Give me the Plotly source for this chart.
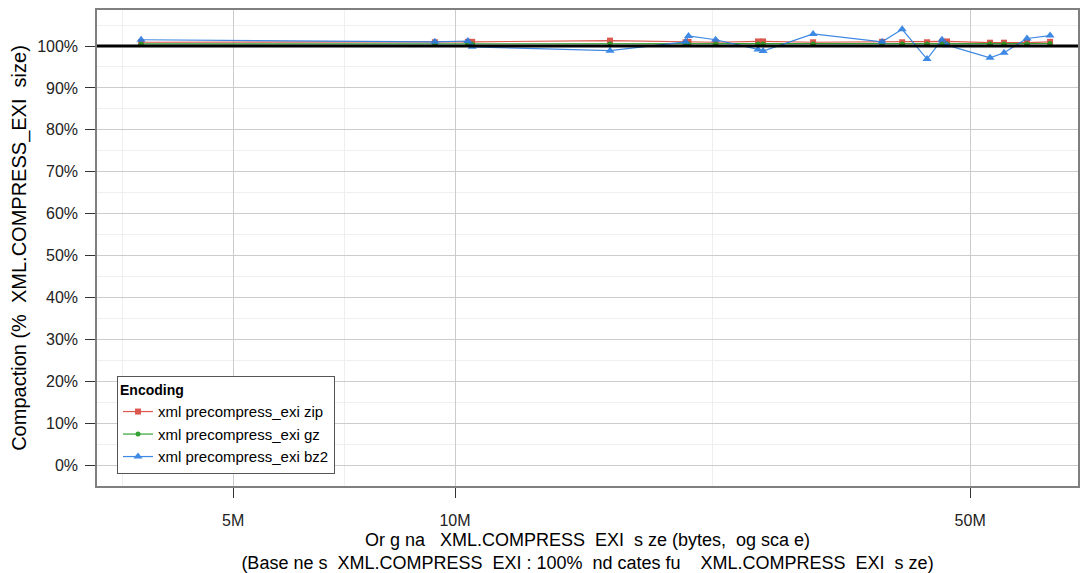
import plotly.graph_objects as go

# ---- data ----
sizes_bytes = [3.75e6, 9.39e6, 10.41e6, 10.55e6, 16.23e6, 20.55e6, 20.74e6, 22.57e6,
               25.77e6, 26.18e6, 30.61e6, 37.97e6, 40.43e6, 43.70e6, 45.79e6, 46.51e6,
               53.20e6, 55.58e6, 59.72e6, 64.18e6]
zip_pct = [100.9, 100.9, 101.0, 101.0, 101.3, 100.9, 101.0, 100.9,
           101.1, 101.1, 100.9, 101.0, 100.9, 100.9, 101.0, 101.1,
           100.8, 100.8, 100.8, 101.0]
gz_pct = [100.5, 100.5, 100.5, 100.5, 100.5, 100.5, 100.5, 100.5,
          100.5, 100.5, 100.5, 100.5, 100.5, 100.5, 100.5, 100.5,
          100.5, 100.5, 100.5, 100.6]
bz2_pct = [101.5, 101.0, 101.2, 99.8, 98.9, 101.0, 102.4, 101.5,
           99.2, 98.8, 102.9, 101.0, 104.0, 96.9, 101.5, 100.2,
           97.2, 98.4, 101.8, 102.5]
series_names = ["xml precompress_exi zip", "xml precompress_exi gz", "xml precompress_exi bz2"]
x_tick_vals = [5e6, 10e6, 50e6]
x_tick_text = ["5M", "10M", "50M"]
y_tick_vals = [0, 10, 20, 30, 40, 50, 60, 70, 80, 90, 100]
y_tick_text = ["0%", "10%", "20%", "30%", "40%", "50%", "60%", "70%", "80%", "90%", "100%"]
x_minor_vals = [3.536e6, 7.071e6, 22.36e6]
y_minor_vals = [5, 15, 25, 35, 45, 55, 65, 75, 85, 95, 105]

FONT = "Liberation Sans, Arial, Helvetica, sans-serif"
colors = ["#d9473c", "#1f9a1f", "#2a7de1"]
symbols = ["square", "circle", "triangle-up"]
msizes = [6, 5, 8]

fig = go.Figure()
for name, vals, c, s, ms in zip(series_names, [zip_pct, gz_pct, bz2_pct], colors, symbols, msizes):
    fig.add_trace(go.Scatter(
        x=sizes_bytes, y=vals, name=name, mode="lines+markers",
        line=dict(color=c, width=1.2),
        marker=dict(symbol=s, size=ms, color=c, line=dict(width=0)),
        opacity=0.9,
    ))

fig.add_hline(y=100, line=dict(color="black", width=3))

# page body has an 8px default margin, so the figure is offset by 8px
fig.update_layout(
    width=1081, height=565,
    margin=dict(l=89, r=11, t=2, b=87),
    paper_bgcolor="white", plot_bgcolor="white",
    font=dict(family=FONT, size=15, color="#222222"),
    showlegend=True,
    legend=dict(
        title=dict(text="<b>Encoding</b>", font=dict(size=14, color="black")),
        x=0.0204, y=0.025, xanchor="left", yanchor="bottom",
        bgcolor="white", bordercolor="#555555", borderwidth=1,
        font=dict(size=15, color="black"),
        tracegroupgap=0,
    ),
    xaxis=dict(
        type="log",
        range=[6.5142, 7.8453],
        automargin=False,
        tickvals=x_tick_vals, ticktext=x_tick_text,
        ticks="outside", ticklen=10, tickcolor="#333333",
        ticklabelstandoff=9,
        tickfont=dict(size=16, color="#222222"),
        showgrid=True, gridcolor="#cccccc", gridwidth=1,
        minor=dict(tickvals=x_minor_vals, showgrid=True, gridcolor="#efefef", ticklen=0),
        showline=True, linecolor="#7f7f7f", linewidth=1.5, mirror=True,
        zeroline=False,
        title=dict(
            text="Or g na   XML.COMPRESS  EXI  s ze (bytes,  og sca e)<br>(Base ne s  XML.COMPRESS  EXI : 100%  nd cates fu    XML.COMPRESS  EXI  s ze)",
            font=dict(size=18, color="black"), standoff=14),
    ),
    yaxis=dict(
        range=[-5, 108.6],
        automargin=False,
        tickvals=y_tick_vals, ticktext=y_tick_text,
        ticks="outside", ticklen=10, tickcolor="#333333",
        ticklabelstandoff=4,
        tickfont=dict(size=16, color="#222222"),
        showgrid=True, gridcolor="#cccccc", gridwidth=1,
        minor=dict(tickvals=y_minor_vals, showgrid=True, gridcolor="#efefef", ticklen=0),
        showline=True, linecolor="#7f7f7f", linewidth=1.5, mirror=True,
        zeroline=False,
        title=dict(text="Compaction (%  XML.COMPRESS_EXI  size)",
                   font=dict(size=20, color="black"), standoff=10),
    ),
)

fig.write_html("out.html")
